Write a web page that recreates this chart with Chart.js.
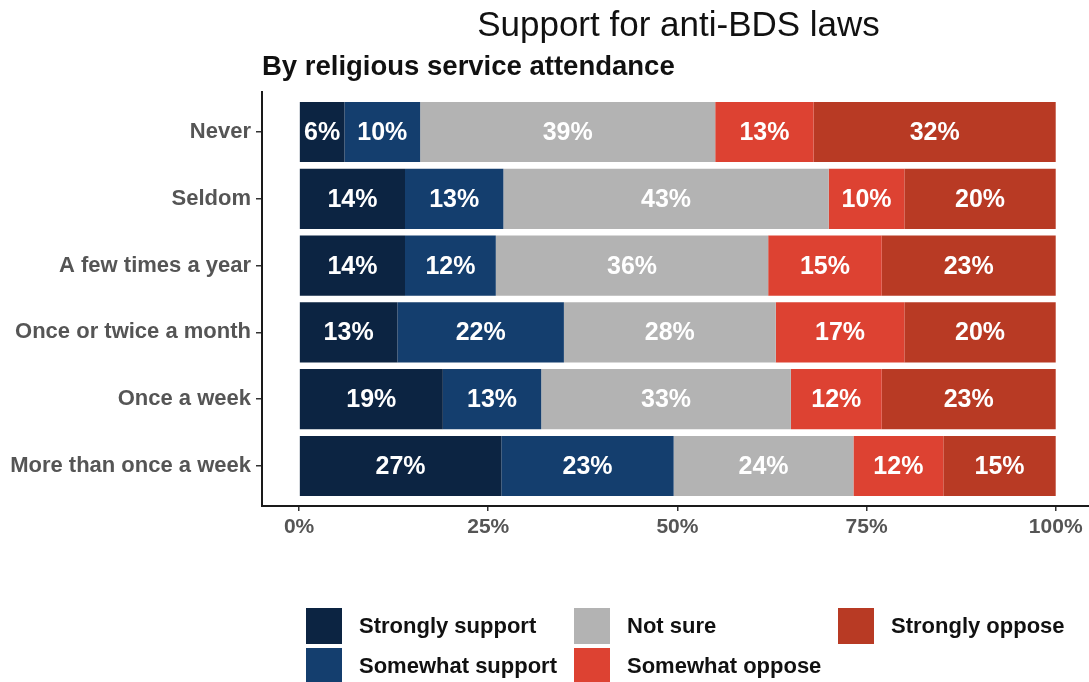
<!DOCTYPE html>
<html>
<head>
<meta charset="utf-8">
<title>Support for anti-BDS laws</title>
<script src="https://cdn.jsdelivr.net/npm/chart.js@4"></script>
<style>
  html, body { margin: 0; padding: 0; background: #ffffff; }
  #wrap { width: 1089px; height: 682px; }
</style>
</head>
<body>
<div id="wrap"><canvas id="chart" width="1089" height="682"></canvas></div>
<script>
// Attendance groups, top to bottom
const categories = [
  'Never',
  'Seldom',
  'A few times a year',
  'Once or twice a month',
  'Once a week',
  'More than once a week'
];

// Response shares (%) per group
const stronglySupport = [6, 14, 14, 13, 19, 27];
const somewhatSupport = [10, 13, 12, 22, 13, 23];
const notSure         = [39, 43, 36, 28, 33, 24];
const somewhatOppose  = [13, 10, 15, 17, 12, 12];
const stronglyOppose  = [32, 20, 23, 20, 23, 15];

const seriesNames = ['Strongly support', 'Somewhat support', 'Not sure', 'Somewhat oppose', 'Strongly oppose'];
const seriesColors = ['#0c2442', '#143e6e', '#b3b3b3', '#dd4232', '#b83a24'];
const xTickValues = [0, 25, 50, 75, 100];

const seriesValues = [stronglySupport, somewhatSupport, notSure, somewhatOppose, stronglyOppose];

// Each row is drawn as a share of its own total so every bar spans 0-100%
const rowTotals = categories.map((_, i) => seriesValues.reduce((s, arr) => s + arr[i], 0));

const datasets = seriesValues.map((vals, k) => ({
  label: seriesNames[k],
  backgroundColor: seriesColors[k],
  borderWidth: 0,
  barPercentage: 0.9,
  categoryPercentage: 1.0,
  labels: vals.map(v => v + '%'),
  data: vals.map((v, i) => ({ y: i, x: v / rowTotals[i] * 100 }))
}));

const FONT = "'Liberation Sans', Arial, sans-serif";

// Value labels centred inside each segment
const segmentLabels = {
  id: 'segmentLabels',
  afterDatasetsDraw(chart) {
    const ctx = chart.ctx;
    ctx.save();
    ctx.font = 'bold 25px ' + FONT;
    ctx.fillStyle = '#ffffff';
    ctx.textAlign = 'center';
    ctx.textBaseline = 'middle';
    chart.data.datasets.forEach((ds, di) => {
      const meta = chart.getDatasetMeta(di);
      meta.data.forEach((bar, i) => {
        const cx = (bar.x + bar.base) / 2;
        ctx.fillText(ds.labels[i], cx, bar.y + 1);
      });
    });
    ctx.restore();
  }
};

// Title, subtitle and a three-column legend filled column by column
const headerAndLegend = {
  id: 'headerAndLegend',
  afterDraw(chart) {
    const ctx = chart.ctx;
    const area = chart.chartArea;
    ctx.save();
    ctx.fillStyle = '#111111';
    ctx.textBaseline = 'alphabetic';
    ctx.textAlign = 'center';
    ctx.font = '35px ' + FONT;
    ctx.fillText('Support for anti-BDS laws', (area.left + area.right) / 2 + 3, 36);
    ctx.textAlign = 'left';
    ctx.font = 'bold 27.5px ' + FONT;
    ctx.fillText('By religious service attendance', area.left, 75);

    const colX = [306, 574, 838];
    const rowY = [608, 648];
    const box = 36;
    ctx.font = 'bold 22px ' + FONT;
    ctx.textBaseline = 'middle';
    chart.data.datasets.forEach((ds, k) => {
      const col = Math.floor(k / 2);
      const row = k % 2;
      const x = colX[col];
      const y = rowY[row];
      ctx.fillStyle = ds.backgroundColor;
      ctx.fillRect(x, y, box, box);
      ctx.fillStyle = '#111111';
      ctx.fillText(ds.label, x + 53, y + box / 2 + 1);
    });
    ctx.restore();
  }
};

new Chart(document.getElementById('chart'), {
  type: 'bar',
  data: { datasets },
  plugins: [segmentLabels, headerAndLegend],
  options: {
    indexAxis: 'y',
    responsive: false,
    animation: false,
    layout: { padding: { top: 92, right: 0, bottom: 0, left: 0 } },
    plugins: {
      legend: { display: false },
      title: { display: false },
      tooltip: { enabled: false }
    },
    scales: {
      x: {
        type: 'linear',
        stacked: true,
        min: -4.9,
        max: 104.4,
        afterBuildTicks(scale) { scale.ticks = xTickValues.map(v => ({ value: v })); },
        afterFit(scale) { scale.height = 176; },
        ticks: {
          callback: v => v + '%',
          color: '#555555',
          font: { family: FONT, size: 21, weight: 'bold' },
          padding: 4,
          maxRotation: 0
        },
        grid: { drawOnChartArea: false, drawTicks: true, tickLength: 5, color: '#333333', lineWidth: 1.5 },
        border: { display: true, color: '#1a1a1a', width: 2 }
      },
      y: {
        type: 'linear',
        stacked: true,
        reverse: true,
        offset: false,
        min: -0.6,
        max: 5.6,
        afterBuildTicks(scale) { scale.ticks = categories.map((_, i) => ({ value: i })); },
        afterFit(scale) { scale.width = 262; },
        ticks: {
          callback: v => categories[v],
          color: '#555555',
          font: { family: FONT, size: 22, weight: 'bold' },
          padding: 5
        },
        grid: { offset: false, drawOnChartArea: false, drawTicks: true, tickLength: 6, color: '#333333', lineWidth: 1.5 },
        border: { display: true, color: '#1a1a1a', width: 2 }
      }
    }
  }
});
</script>
</body>
</html>
